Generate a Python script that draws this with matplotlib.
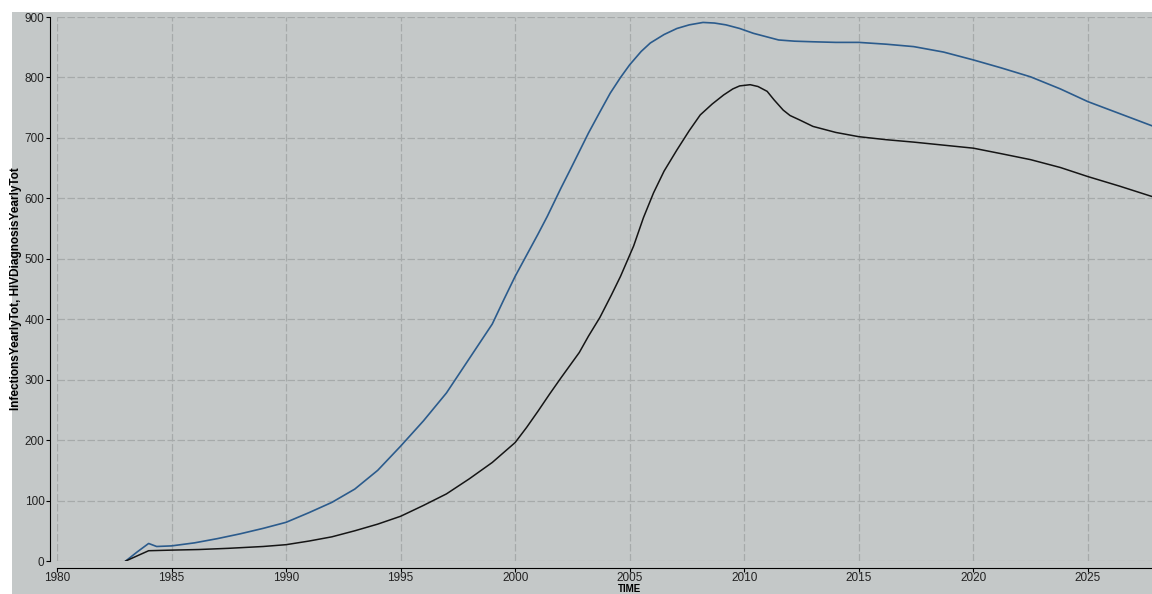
import matplotlib
matplotlib.use("Agg")
import matplotlib.pyplot as plt
from matplotlib.patches import Rectangle

# values
blue_years = [1983.0, 1983.5, 1984.0, 1984.35, 1985.0, 1986.0, 1987.0, 1988.0, 1989.0,
              1990.0, 1991.0, 1992.0, 1993.0, 1994.0, 1995.0, 1996.0, 1997.0, 1998.0,
              1999.0, 1999.5, 2000.0, 2000.5, 2001.0, 2001.4, 2002.0, 2002.4, 2003.2,
              2003.7, 2004.15, 2004.6, 2005.0, 2005.5, 2005.9, 2006.5, 2007.06, 2007.6,
              2008.2, 2008.7, 2009.2, 2009.8, 2010.4, 2011.0, 2011.5, 2012.2, 2013.0,
              2014.0, 2015.0, 2016.2, 2017.4, 2018.7, 2020.0, 2021.2, 2022.5, 2023.8,
              2025.0, 2026.4, 2027.8]
infections = [0, 15, 29, 24, 25, 30, 37, 45, 54,
              64, 80, 97, 119, 150, 190, 232, 278, 335,
              392, 432, 471, 506, 541, 570, 617, 647, 708,
              743, 774, 800, 821, 843, 857, 871, 881, 887,
              891, 890, 887, 881, 873, 867, 862, 860, 859,
              858, 858, 855, 851, 842, 829, 816, 801, 781,
              760, 740, 720]

black_years = [1983.0, 1984.0, 1985.0, 1986.2, 1987.5, 1989.0, 1990.0, 1991.0, 1992.0,
               1993.0, 1994.0, 1995.0, 1996.0, 1997.0, 1998.0, 1999.0, 2000.0, 2000.5,
               2001.0, 2001.5, 2002.0, 2002.8, 2003.2, 2003.7, 2004.2, 2004.6, 2005.17,
               2005.6, 2006.04, 2006.5, 2007.06, 2007.6, 2008.08, 2008.6, 2009.1, 2009.5,
               2009.8, 2010.26, 2010.6, 2011.0, 2011.3, 2011.7, 2012.0, 2012.4, 2013.0,
               2014.0, 2015.0, 2016.2, 2017.4, 2018.7, 2020.0, 2021.2, 2022.5, 2023.8,
               2025.0, 2026.4, 2027.8]
diagnoses = [0, 17, 18, 19, 21, 24, 27, 33, 40,
             50, 61, 74, 92, 111, 136, 163, 196, 221,
             248, 276, 303, 345, 372, 403, 440, 471, 521,
             568, 609, 645, 680, 712, 738, 756, 771, 781,
             786, 788, 785, 777, 763, 746, 737, 730, 719,
             709, 702, 697, 693, 688, 683, 674, 664, 651,
             636, 620, 603]

x_ticks = [1980, 1985, 1990, 1995, 2000, 2005, 2010, 2015, 2020, 2025]
y_ticks = [0, 100, 200, 300, 400, 500, 600, 700, 800, 900]

BG = "#c4c8c8"
GRID = "#a6aaaa"
FONT = ["Liberation Sans Narrow", "Liberation Sans", "DejaVu Sans"]

fig = plt.figure(figsize=(11.52, 5.94), dpi=100, facecolor=BG)
fig.add_artist(Rectangle((0, 1 - 12 / 594), 1, 12 / 594, transform=fig.transFigure,
                         facecolor="white", edgecolor="none", zorder=0))
fig.add_artist(Rectangle((0, 0), 12 / 1152, 1, transform=fig.transFigure,
                         facecolor="white", edgecolor="none", zorder=0))

ax = fig.add_axes([57 / 1152, 33 / 594, 1 - 57 / 1152, (561 - 17) / 594])
ax.set_facecolor(BG)

ax.plot(blue_years, infections, color="#2b5b8c", lw=1.2, zorder=3,
        solid_joinstyle="round")
ax.plot(black_years, diagnoses, color="#151515", lw=1.1, zorder=3,
        solid_joinstyle="round")

ax.set_xlim(1980, 2027.8)
ax.set_ylim(0, 900)
ax.set_xticks(x_ticks)
ax.set_yticks(y_ticks)
ax.grid(True, color=GRID, lw=0.9, ls=(0, (6, 2)))
ax.set_axisbelow(True)

for s in ["top", "right"]:
    ax.spines[s].set_visible(False)
ax.spines["left"].set_position(("outward", 5))
ax.spines["bottom"].set_position(("outward", 5))
ax.spines["left"].set_bounds(0, 900)

ax.tick_params(axis="both", direction="out", length=3, width=0.8, labelsize=8.5,
               pad=1, labelcolor="#222222")
ax.tick_params(axis="x", pad=0)
for lab in ax.get_xticklabels() + ax.get_yticklabels():
    lab.set_family(FONT)

ax.set_ylabel("InfectionsYearlyTot, HIVDiagnosisYearlyTot", fontsize=8.5,
              fontweight="bold", family=FONT)
ax.yaxis.set_label_coords(-0.032, 0.5)
fig.text(630 / 1152, 0.5 / 594, "TIME", ha="center", va="bottom", fontsize=7,
         fontweight="bold", family=FONT)

fig.savefig("out.png", dpi=100, facecolor=fig.get_facecolor())
